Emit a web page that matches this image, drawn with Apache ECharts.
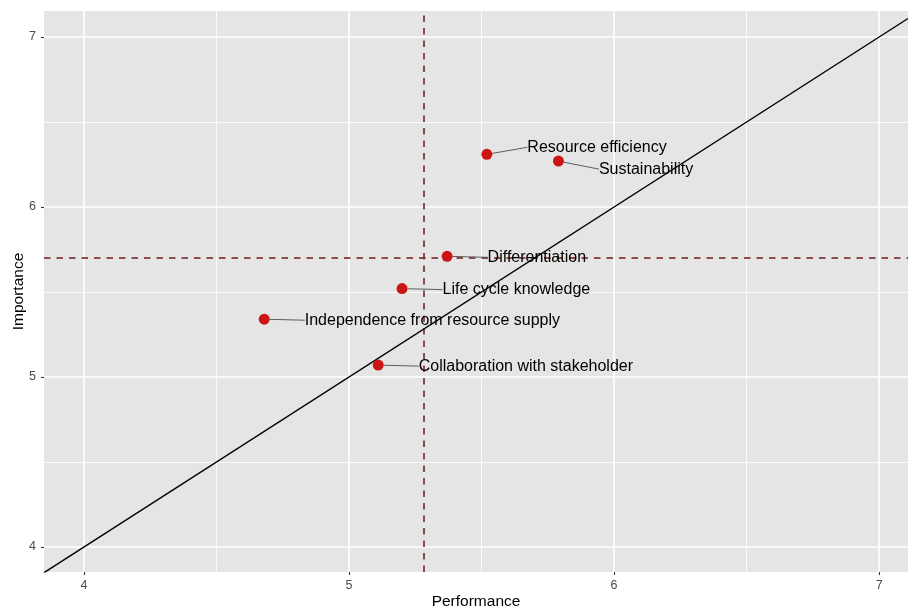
<!DOCTYPE html>
<html>
<head>
<meta charset="utf-8">
<script src="https://cdn.jsdelivr.net/npm/echarts@6/dist/echarts.min.js"></script>
<style>
  html, body { margin: 0; padding: 0; background: #ffffff; }
  #chart { width: 908px; height: 609px; }
</style>
</head>
<body>
<div id="chart"></div>
<script>
// Importance–performance map of sustainability factors
const factors = [
  'Resource efficiency',
  'Sustainability',
  'Differentiation',
  'Life cycle knowledge',
  'Independence from resource supply',
  'Collaboration with stakeholder'
];
const performance = [5.52, 5.79, 5.37, 5.20, 4.68, 5.11];
const importance  = [6.31, 6.27, 5.71, 5.52, 5.34, 5.07];

// Axis ranges and tick values
const xRange = [3.849, 7.109];
const yRange = [3.853, 7.153];
const majorTicks = [4, 5, 6, 7];
const minorTicks = [4.5, 5.5, 6.5];

// Vertical offsets of the repelled labels (px)
const labelShiftY = [-7, 8, 1, 1, 1, 1];

const mean = a => a.reduce((s, v) => s + v, 0) / a.length;
const perfMean = mean(performance);
const impMean = mean(importance);

const FONT = '"Liberation Sans", Arial, Helvetica, sans-serif';

function gridLines(axisKey) {
  const major = majorTicks.map(v => ({ [axisKey]: v, lineStyle: { color: '#ffffff', width: 1.6, type: 'solid' } }));
  const minor = minorTicks.map(v => ({ [axisKey]: v, lineStyle: { color: '#ffffff', width: 0.8, type: 'solid' } }));
  return minor.concat(major);
}

function axisCommon(name, range, gap, labelMargin) {
  return {
    type: 'value',
    min: range[0],
    max: range[1],
    name: name,
    nameLocation: 'middle',
    nameGap: gap,
    nameMoveOverlap: false,
    nameTextStyle: { color: '#000000', fontSize: 15.5, fontFamily: FONT },
    axisLine: { show: false },
    axisTick: { show: true, length: 3, customValues: majorTicks, lineStyle: { color: '#333333', width: 1.1 } },
    axisLabel: { customValues: majorTicks, color: '#4d4d4d', fontSize: 12.5, fontFamily: FONT, margin: labelMargin },
    splitLine: { show: false },
    minorSplitLine: { show: false }
  };
}

const chart = echarts.init(document.getElementById('chart'), null, { renderer: 'canvas' });

chart.setOption({
  animation: false,
  backgroundColor: '#ffffff',
  grid: {
    left: 44, right: 0, top: 11, bottom: 37,
    outerBoundsMode: 'none',
    containLabel: false,
    show: true, backgroundColor: '#e5e5e5', borderWidth: 0
  },
  xAxis: axisCommon('Performance', xRange, 22, 7),
  yAxis: axisCommon('Importance', yRange, 17, 8),
  series: [
    {
      // panel grid lines
      type: 'line',
      data: [],
      z: 1,
      silent: true,
      markLine: {
        z: 1,
        silent: true,
        symbol: 'none',
        label: { show: false },
        animation: false,
        data: gridLines('xAxis').concat(gridLines('yAxis'))
      }
    },
    {
      // reference lines at the means
      type: 'line',
      data: [],
      z: 2,
      silent: true,
      markLine: {
        z: 2,
        silent: true,
        symbol: 'none',
        label: { show: false },
        animation: false,
        lineStyle: { color: '#701818', width: 1.5, type: [6.5, 6] },
        data: [{ xAxis: perfMean }, { yAxis: impMean }]
      }
    },
    {
      // diagonal: importance = performance
      type: 'line',
      z: 3,
      silent: true,
      symbol: 'none',
      clip: true,
      lineStyle: { color: '#000000', width: 1.4 },
      data: [[xRange[0], xRange[0]], [xRange[1], xRange[1]]]
    },
    {
      type: 'scatter',
      z: 4,
      symbolSize: 11,
      itemStyle: { color: '#cc1414', opacity: 1 },
      data: factors.map((f, i) => ({ name: f, value: [performance[i], importance[i]] })),
      label: {
        show: true,
        position: 'right',
        distance: 35,
        formatter: p => p.name,
        color: '#000000',
        fontSize: 16,
        fontFamily: FONT
      },
      labelLine: {
        show: true,
        lineStyle: { color: '#4d4d4d', width: 0.9 }
      },
      labelLayout: p => ({ dy: labelShiftY[p.dataIndex] })
    }
  ]
});
</script>
</body>
</html>
